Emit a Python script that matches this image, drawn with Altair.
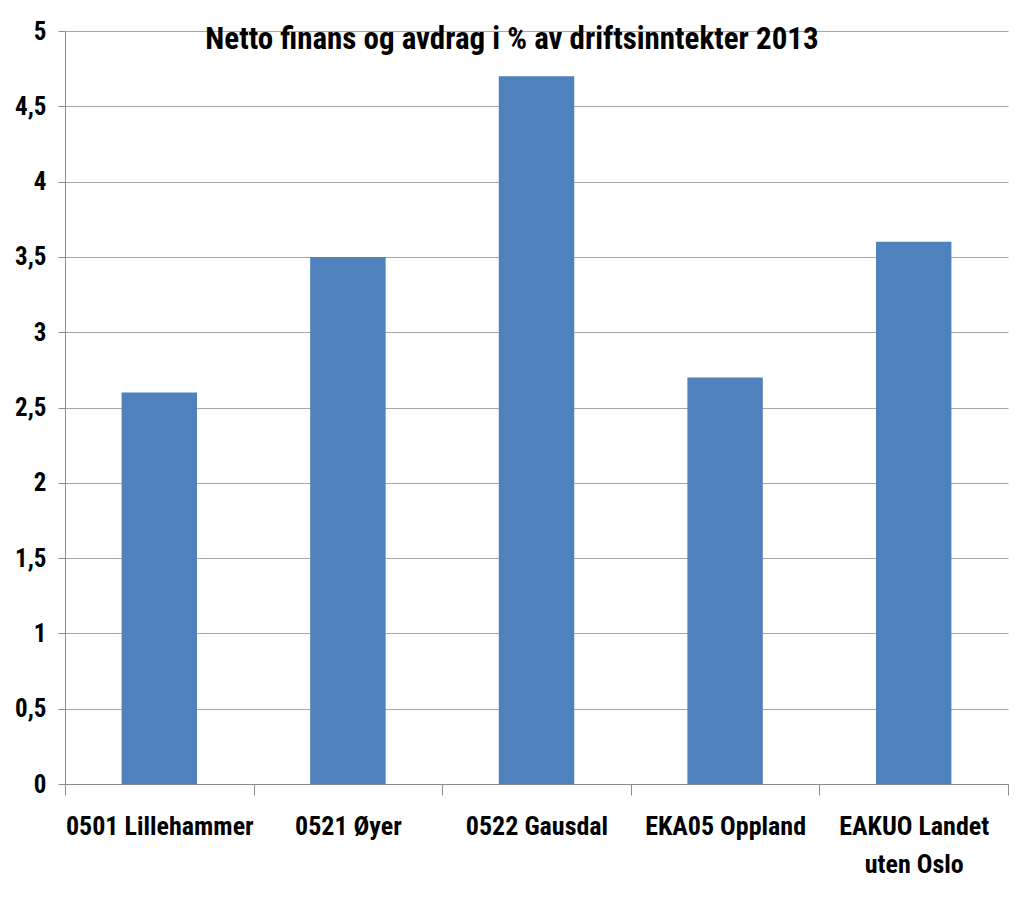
import altair as alt
import pandas as pd

categories = ["0501 Lillehammer", "0521 Øyer", "0522 Gausdal", "EKA05 Oppland", "EAKUO Landet uten Oslo"]
values = [2.6, 3.5, 4.7, 2.7, 3.6]
y_ticks = [0, 0.5, 1, 1.5, 2, 2.5, 3, 3.5, 4, 4.5, 5]
title_text = "Netto finans og avdrag i % av driftsinntekter 2013"

FONT = "Roboto Condensed, Roboto, sans-serif"

df = pd.DataFrame({"kategori": categories, "verdi": values})

bars = alt.Chart(df).mark_bar(color="#4F81BD", width=alt.RelativeBandSize(0.4)).encode(
    x=alt.X(
        "kategori:N",
        sort=categories,
        title=None,
        scale=alt.Scale(paddingInner=0, paddingOuter=0),
        axis=alt.Axis(
            labelAngle=0,
            labelFont=FONT,
            labelFontSize=26,
            labelFontWeight="bold",
            labelColor="#000000",
            labelPadding=18,
            labelLineHeight=38,
            labelLimit=0,
            labelExpr="datum.label == 'EAKUO Landet uten Oslo' ? ['EAKUO Landet', 'uten Oslo'] : datum.label",
            tickBand="extent",
            tickSize=11,
            tickColor="#8c8c8c",
            domainColor="#8c8c8c",
            grid=False,
        ),
    ),
    y=alt.Y(
        "verdi:Q",
        title=None,
        scale=alt.Scale(domain=[0, 5], nice=False),
        axis=alt.Axis(
            values=y_ticks,
            format="~g",
            labelExpr="replace(datum.label, '.', ',')",
            labelFont=FONT,
            labelFontSize=25,
            labelFontWeight="bold",
            labelColor="#000000",
            labelPadding=12,
            tickSize=7,
            tickColor="#8c8c8c",
            domainColor="#8c8c8c",
            gridColor="#a6a6a6",
            grid=True,
        ),
    ),
)

title = alt.Chart(pd.DataFrame({"t": [title_text]})).mark_text(
    font=FONT,
    fontSize=31,
    fontWeight="bold",
    color="#000000",
    align="center",
    baseline="alphabetic",
).encode(
    text="t:N",
    x=alt.value(447),
    y=alt.value(18),
)

chart = alt.layer(bars, title).properties(
    width=943,
    height=753,
    autosize=alt.AutoSizeParams(type="none"),
    padding={"left": 57, "top": 23, "right": 8, "bottom": 110},
    background="#ffffff",
).configure_view(stroke=None)

chart.save("out.html", embed_options={"renderer": "svg", "actions": False})
